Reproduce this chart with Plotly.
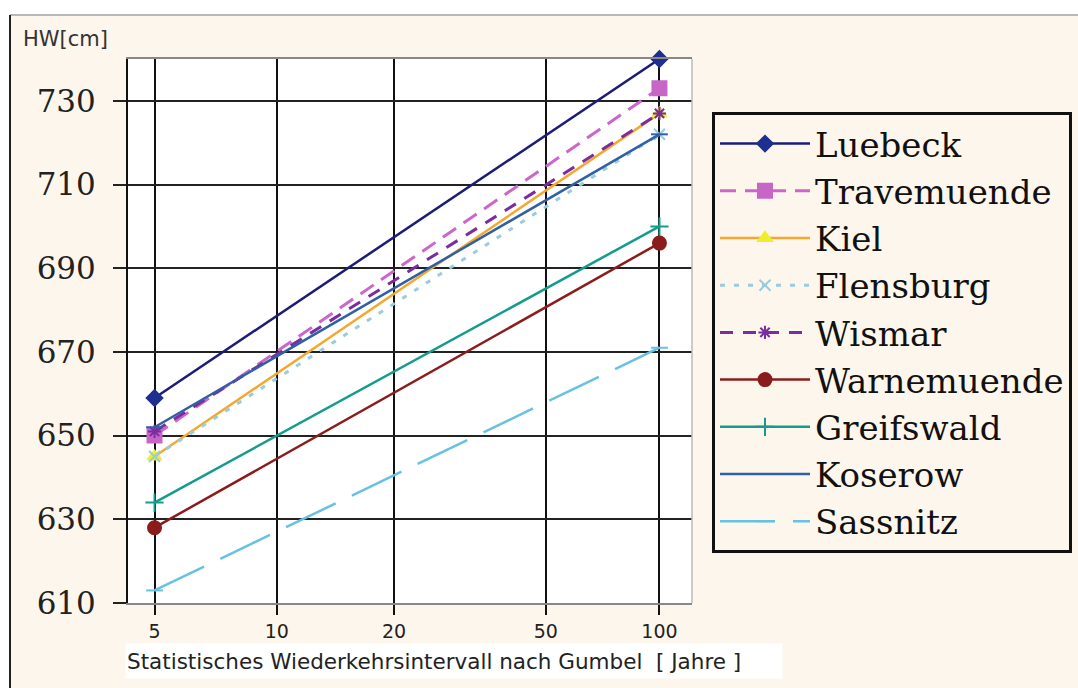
import numpy as np
import plotly.graph_objects as go

# ---- data ----
return_periods = [5, 100]          # years
tick_periods = [5, 10, 20, 50, 100]
y_ticks = [610, 630, 650, 670, 690, 710, 730]

stations = ["Luebeck", "Travemuende", "Kiel", "Flensburg", "Wismar",
            "Warnemuende", "Greifswald", "Koserow", "Sassnitz"]
luebeck = [659, 740]
travemuende = [650, 733]
kiel = [645, 727]
flensburg = [645, 722]
wismar = [651, 727]
warnemuende = [628, 696]
greifswald = [634, 700]
koserow = [652, 722]
sassnitz = [613, 671]
values = [luebeck, travemuende, kiel, flensburg, wismar,
          warnemuende, greifswald, koserow, sassnitz]

# ---- styles ----
styles = {
    "Luebeck":     dict(color="#1C1C78", width=2.5, dash="solid", symbol="diamond", msize=12, mcolor="#1F2F8F"),
    "Travemuende": dict(color="#CC66CC", width=3, dash="16px,9px", symbol="square", msize=14, mcolor="#C866C8"),
    "Kiel":        dict(color="#F5A830", width=2.5, dash="solid", symbol="triangle-up", msize=12, mcolor="#EEEE30"),
    "Flensburg":   dict(color="#99CCDD", width=3, dash="5px,9px", symbol="x-thin", msize=11, mcolor="#99CCDD"),
    "Wismar":      dict(color="#7B2C9E", width=3, dash="13px,10px", symbol="asterisk", msize=11, mcolor="#7B2C9E"),
    "Warnemuende": dict(color="#8B1C1C", width=2.5, dash="solid", symbol="circle", msize=13, mcolor="#8B1C1C"),
    "Greifswald":  dict(color="#139C8C", width=2.5, dash="solid", symbol="cross-thin", msize=13, mcolor="#139C8C"),
    "Koserow":     dict(color="#2F5FA5", width=2.5, dash="solid", symbol="line-ew", msize=12, mcolor="#2F5FA5"),
    "Sassnitz":    dict(color="#66C2E0", width=2.5, dash="55px,18px", symbol="line-ew", msize=12, mcolor="#66C2E0"),
}


def gumbel(T):
    T = np.asarray(T, dtype=float)
    return -np.log(-np.log(1.0 - 1.0 / T))


W, H = 1078, 688
L, R, T_, B = 128, 386, 59, 85
pw = W - L - R
ph = H - T_ - B

fig = go.Figure()
for name, vals in zip(stations, values):
    s = styles[name]
    fig.add_trace(go.Scatter(
        x=gumbel(return_periods), y=vals, name=name, mode="lines+markers",
        legendgroup=name,
        line=dict(color=s["color"], width=s["width"], dash=s["dash"]),
        marker=dict(symbol=s["symbol"], size=s["msize"], color=s["mcolor"],
                    line=dict(color=s["mcolor"], width=2)),
        cliponaxis=False,
    ))

cream = "#FDF6EC"


def px_x(p):
    return (p - L) / pw


def px_y(p):
    return (H - B - p) / ph


shapes = [
    # white strips outside the cream frame
    dict(type="rect", xref="paper", yref="paper", x0=px_x(0), x1=px_x(W), y0=px_y(15), y1=px_y(0),
         fillcolor="white", line=dict(width=0), layer="below"),
    dict(type="rect", xref="paper", yref="paper", x0=px_x(0), x1=px_x(10), y0=px_y(H), y1=px_y(15),
         fillcolor="white", line=dict(width=0), layer="below"),
    dict(type="line", xref="paper", yref="paper", x0=px_x(10), x1=px_x(W), y0=px_y(15), y1=px_y(15),
         line=dict(color="#B8B8B8", width=2)),
    dict(type="line", xref="paper", yref="paper", x0=px_x(10), x1=px_x(10), y0=px_y(15), y1=px_y(H),
         line=dict(color="#222222", width=2)),
    # right border of plot area
    dict(type="line", xref="paper", yref="paper", x0=1, x1=1, y0=0, y1=1,
         line=dict(color="#BBBBBB", width=1.5)),
]

annotations = [
    dict(text="HW[cm]", xref="paper", yref="paper", x=px_x(21), y=px_y(39),
         xanchor="left", yanchor="middle", showarrow=False,
         font=dict(family="DejaVu Sans", size=21, color="#333333")),
    dict(text="Statistisches Wiederkehrsintervall nach Gumbel  [ Jahre ]",
         xref="paper", yref="paper", x=px_x(125), y=px_y(661),
         xanchor="left", yanchor="middle", showarrow=False, align="left",
         width=654, height=32, bgcolor="white",
         font=dict(family="DejaVu Sans", size=21.5, color="#222222")),
]

fig.update_layout(
    width=W, height=H,
    margin=dict(l=L, r=R, t=T_, b=B, pad=0, autoexpand=False),
    paper_bgcolor=cream, plot_bgcolor="white",
    showlegend=True,
    legend=dict(
        x=px_x(712), y=px_y(112), xanchor="left", yanchor="top",
        bgcolor=cream, bordercolor="#111111", borderwidth=3,
        font=dict(family="DejaVu Serif", size=34, color="#111111"),
        tracegroupgap=0, itemwidth=90,
    ),
    shapes=shapes, annotations=annotations,
)

fig.update_xaxes(
    range=[float(gumbel(4.33)), float(gumbel(122))],
    tickmode="array", tickvals=gumbel(tick_periods).tolist(),
    ticktext=[str(t) for t in tick_periods],
    showgrid=True, gridcolor="#111111", gridwidth=2,
    showline=True, linecolor="#888888", linewidth=1.5, mirror=True,
    ticks="outside", ticklen=10, tickwidth=2, tickcolor="#111111",
    tickfont=dict(family="DejaVu Sans", size=19, color="#222222"),
    zeroline=False, automargin=False,
)
fig.update_yaxes(
    range=[610, 740], tickmode="array", tickvals=y_ticks,
    showgrid=True, gridcolor="#222222", gridwidth=1.5,
    showline=True, linecolor="#111111", linewidth=2,
    ticks="outside", ticklen=13, tickwidth=1.5, tickcolor="#222222",
    ticklabelstandoff=11,
    tickfont=dict(family="DejaVu Serif", size=31, color="#222222"),
    zeroline=False, automargin=False,
)

fig.write_html("out.html", config={"displayModeBar": False},
               post_script="document.body.style.margin='0';")
